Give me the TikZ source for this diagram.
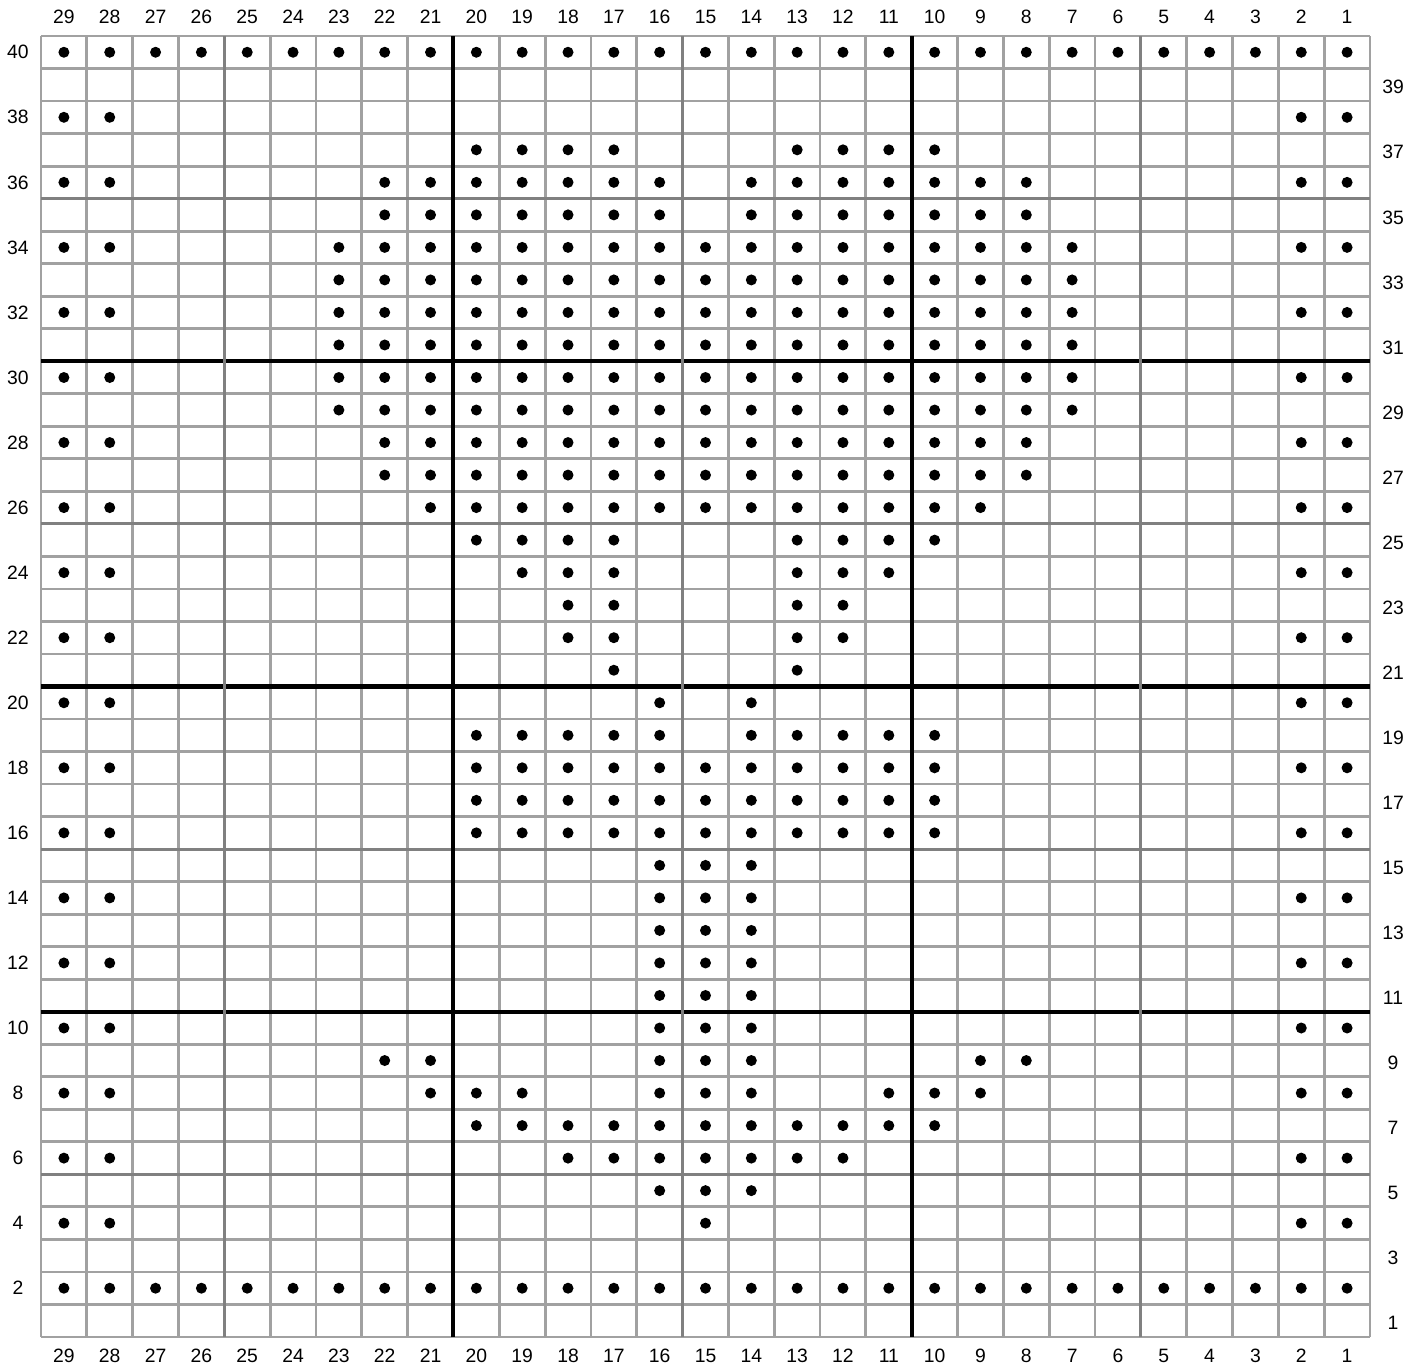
\documentclass[tikz,border=0pt]{standalone}
\usepackage{fontspec}
\setmainfont{Liberation Sans}

\begin{document}
\begin{tikzpicture}[
    x=0.91655cm, y=0.6505cm,
    thinline/.style={draw=black!37, line width=1.6pt},
    fiveline/.style={draw=black!50, line width=1.7pt},
    tenline/.style={draw=black, line width=2.3pt},
    stitch/.style={fill=black},
    numlabel/.style={font=\fontsize{11}{13}\selectfont, inner sep=0pt}
]
\useasboundingbox (-0.82cm,-0.64cm) rectangle (27.66cm,26.74cm);

% grid
\foreach \i in {0,...,29} \draw[thinline] (\i,0) -- (\i,40);
\foreach \j in {0,...,40} \draw[thinline] (0,\j) -- (29,\j);
\foreach \j in {5,15,25,35} \draw[fiveline] (0,\j) -- (29,\j);
\foreach \j in {10,20,30} \draw[tenline] (0,\j) -- (29,\j);
\foreach \i in {4,14,24} \draw[fiveline] (\i,0) -- (\i,40);
\foreach \i in {9,19} \draw[tenline] (\i,0) -- (\i,40);

% column and row numbers
\foreach \c in {1,...,29} {
  \node[numlabel] (top-\c) at (29.5-\c,40) [yshift=0.38cm] {\c};
  \node[numlabel] (bot-\c) at (29.5-\c,0) [yshift=-0.38cm] {\c};
}
\foreach \r in {2,4,...,40}
  \node[numlabel] (left-\r) at (0,\r-0.5) [xshift=-0.46cm] {\r};
\foreach \r in {1,3,...,39}
  \node[numlabel] (right-\r) at (29,\r-0.5) [xshift=0.46cm, yshift=-0.05cm] {\r};

% purl stitches, row by row
\foreach \r/\cols in {
    40/{1,...,29},
    38/{1,2,28,29},
    37/{10,11,12,13,17,18,19,20},
    36/{1,2,8,9,10,11,12,13,14,16,17,18,19,20,21,22,28,29},
    35/{8,9,10,11,12,13,14,16,17,18,19,20,21,22},
    34/{1,2,7,8,9,10,11,12,13,14,15,16,17,18,19,20,21,22,23,28,29},
    33/{7,...,23},
    32/{1,2,7,8,9,10,11,12,13,14,15,16,17,18,19,20,21,22,23,28,29},
    31/{7,...,23},
    30/{1,2,7,8,9,10,11,12,13,14,15,16,17,18,19,20,21,22,23,28,29},
    29/{7,...,23},
    28/{1,2,8,9,10,11,12,13,14,15,16,17,18,19,20,21,22,28,29},
    27/{8,...,22},
    26/{1,2,9,10,11,12,13,14,15,16,17,18,19,20,21,28,29},
    25/{10,11,12,13,17,18,19,20},
    24/{1,2,11,12,13,17,18,19,28,29},
    23/{12,13,17,18},
    22/{1,2,12,13,17,18,28,29},
    21/{13,17},
    20/{1,2,14,16,28,29},
    19/{10,11,12,13,14,16,17,18,19,20},
    18/{1,2,10,11,12,13,14,15,16,17,18,19,20,28,29},
    17/{10,...,20},
    16/{1,2,10,11,12,13,14,15,16,17,18,19,20,28,29},
    15/{14,15,16},
    14/{1,2,14,15,16,28,29},
    13/{14,15,16},
    12/{1,2,14,15,16,28,29},
    11/{14,15,16},
    10/{1,2,14,15,16,28,29},
    9/{8,9,14,15,16,21,22},
    8/{1,2,9,10,11,14,15,16,19,20,21,28,29},
    7/{10,...,20},
    6/{1,2,12,13,14,15,16,17,18,28,29},
    5/{14,15,16},
    4/{1,2,15,28,29},
    2/{1,...,29}}
  \foreach \c in \cols
    \fill[stitch] (29.5-\c,\r-0.5) circle[radius=0.11cm];
\end{tikzpicture}
\end{document}
